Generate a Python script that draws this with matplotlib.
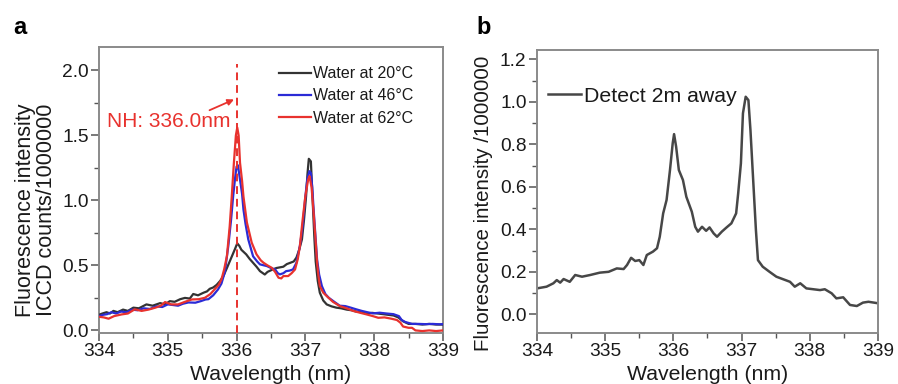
import matplotlib
matplotlib.use("Agg")
import matplotlib.pyplot as plt
from matplotlib.ticker import MultipleLocator, FormatStrFormatter

plt.rcParams['font.family'] = ['Liberation Sans', 'DejaVu Sans']

# ---------------- Panel a data ----------------
wl_20 = [334.00, 334.05, 334.11, 334.16, 334.21, 334.27, 334.35, 334.42, 334.50, 334.58, 334.69, 334.78,
         334.89, 334.96, 335.03, 335.10, 335.18, 335.25, 335.32, 335.37, 335.44, 335.52, 335.57, 335.61,
         335.66, 335.71, 335.76, 335.81, 335.86, 335.90, 335.94, 335.98, 336.01, 336.04, 336.07, 336.14,
         336.19, 336.24, 336.29, 336.34, 336.41, 336.45, 336.49, 336.53, 336.58, 336.63, 336.68, 336.73,
         336.78, 336.83, 336.87, 336.91, 336.95, 336.98, 337.01, 337.03, 337.05, 337.08, 337.11, 337.13,
         337.15, 337.18, 337.21, 337.26, 337.31, 337.38, 337.45, 337.52, 337.60, 337.67, 337.74, 337.81,
         337.89, 337.97, 338.05, 338.13, 338.20, 338.28, 338.35, 338.42, 338.50, 338.60, 338.70, 338.80,
         338.90, 339.00]
int_20 = [0.12, 0.13, 0.14, 0.13, 0.15, 0.14, 0.16, 0.15, 0.175, 0.17, 0.20, 0.19,
          0.21, 0.20, 0.225, 0.22, 0.24, 0.25, 0.245, 0.28, 0.27, 0.29, 0.30, 0.32,
          0.33, 0.35, 0.38, 0.42, 0.48, 0.53, 0.58, 0.63, 0.67, 0.65, 0.62, 0.585,
          0.55, 0.52, 0.49, 0.456, 0.43, 0.45, 0.46, 0.47, 0.48, 0.485, 0.49, 0.51,
          0.52, 0.53, 0.56, 0.62, 0.70, 0.85, 1.03, 1.20, 1.32, 1.30, 0.95, 0.72,
          0.53, 0.38, 0.29, 0.23, 0.20, 0.185, 0.175, 0.17, 0.16, 0.155, 0.145, 0.14,
          0.13, 0.135, 0.13, 0.125, 0.12, 0.115, 0.10, 0.07, 0.05, 0.05, 0.045, 0.05,
          0.045, 0.045]

wl_46 = [334.00, 334.06, 334.12, 334.18, 334.25, 334.32, 334.40, 334.48, 334.56, 334.65, 334.74, 334.83,
         334.92, 335.00, 335.08, 335.15, 335.22, 335.30, 335.40, 335.48, 335.55, 335.59, 335.66, 335.73,
         335.78, 335.83, 335.88, 335.92, 335.95, 335.98, 336.00, 336.02, 336.05, 336.08, 336.10, 336.13,
         336.17, 336.24, 336.30, 336.34, 336.40, 336.44, 336.50, 336.56, 336.60, 336.63, 336.68, 336.72,
         336.77, 336.82, 336.87, 336.92, 336.96, 337.00, 337.03, 337.06, 337.08, 337.10, 337.12, 337.15,
         337.17, 337.20, 337.24, 337.29, 337.34, 337.42, 337.50, 337.58, 337.66, 337.74, 337.82, 337.90,
         337.98, 338.08, 338.18, 338.28, 338.36, 338.40, 338.45, 338.55, 338.65, 338.75, 338.85, 338.95,
         339.00]
int_46 = [0.11, 0.12, 0.125, 0.14, 0.13, 0.145, 0.14, 0.16, 0.155, 0.17, 0.165, 0.185,
          0.18, 0.20, 0.195, 0.19, 0.205, 0.215, 0.213, 0.225, 0.238, 0.24, 0.27, 0.315,
          0.36, 0.45, 0.65, 0.85, 1.03, 1.18, 1.26, 1.27, 1.16, 1.05, 0.93, 0.82,
          0.70, 0.57, 0.53, 0.508, 0.50, 0.495, 0.48, 0.469, 0.44, 0.431, 0.44, 0.456,
          0.46, 0.469, 0.52, 0.649, 0.80, 1.033, 1.17, 1.225, 1.21, 1.10, 0.93, 0.70,
          0.546, 0.43, 0.341, 0.28, 0.251, 0.22, 0.19, 0.187, 0.175, 0.162, 0.15, 0.14,
          0.131, 0.136, 0.13, 0.125, 0.11, 0.08, 0.065, 0.05, 0.05, 0.048, 0.05, 0.047,
          0.048]

wl_62 = [334.00, 334.07, 334.14, 334.22, 334.33, 334.42, 334.52, 334.62, 334.72, 334.82, 334.90, 334.96,
         335.05, 335.15, 335.25, 335.35, 335.45, 335.54, 335.62, 335.69, 335.74, 335.78, 335.82, 335.86,
         335.90, 335.93, 335.96, 335.99, 336.01, 336.03, 336.05, 336.08, 336.10, 336.15, 336.22, 336.29,
         336.35, 336.39, 336.45, 336.51, 336.56, 336.61, 336.65, 336.68, 336.75, 336.80, 336.85, 336.89,
         336.92, 336.96, 337.00, 337.04, 337.06, 337.09, 337.12, 337.15, 337.17, 337.19, 337.21, 337.26,
         337.31, 337.40, 337.50, 337.60, 337.70, 337.80, 337.89, 337.98, 338.06, 338.15, 338.25, 338.33,
         338.38, 338.42, 338.50, 338.55, 338.60, 338.70, 338.80, 338.90, 339.00]
int_62 = [0.105, 0.10, 0.09, 0.11, 0.123, 0.13, 0.162, 0.15, 0.16, 0.175, 0.19, 0.218,
          0.20, 0.20, 0.22, 0.238, 0.24, 0.251, 0.28, 0.321, 0.35, 0.392, 0.47, 0.572,
          0.80, 1.03, 1.28, 1.50, 1.56, 1.50, 1.29, 1.15, 1.03, 0.83, 0.675, 0.585,
          0.54, 0.521, 0.50, 0.482, 0.45, 0.405, 0.40, 0.418, 0.418, 0.44, 0.469, 0.55,
          0.649, 0.85, 1.033, 1.16, 1.187, 1.10, 0.905, 0.68, 0.521, 0.42, 0.341, 0.29,
          0.264, 0.22, 0.187, 0.17, 0.149, 0.135, 0.123, 0.11, 0.097, 0.10, 0.09, 0.08,
          0.06, 0.03, 0.02, 0.02, 0.00, -0.005, 0.00, -0.005, 0.00]

labels_a = ['Water at 20°C', 'Water at 46°C', 'Water at 62°C']
nh_line = 336.0
nh_text = 'NH: 336.0nm'

# ---------------- Panel b data ----------------
wl_b = [334.00, 334.14, 334.24, 334.29, 334.34, 334.39, 334.48, 334.56, 334.66, 334.78, 334.92, 335.05,
        335.17, 335.27, 335.32, 335.38, 335.44, 335.50, 335.56, 335.61, 335.70, 335.76, 335.80, 335.85,
        335.90, 335.95, 335.99, 336.01, 336.04, 336.08, 336.14, 336.19, 336.27, 336.32, 336.36, 336.42,
        336.48, 336.53, 336.59, 336.64, 336.71, 336.78, 336.85, 336.92, 336.95, 336.99, 337.02, 337.06,
        337.10, 337.13, 337.17, 337.21, 337.24, 337.31, 337.41, 337.51, 337.61, 337.71, 337.78, 337.86,
        337.95, 338.05, 338.15, 338.22, 338.32, 338.39, 338.49, 338.59, 338.69, 338.78, 338.86, 339.00]
int_b = [0.122, 0.130, 0.146, 0.161, 0.149, 0.166, 0.153, 0.185, 0.177, 0.185, 0.196, 0.200,
         0.216, 0.213, 0.232, 0.266, 0.251, 0.255, 0.232, 0.279, 0.295, 0.311, 0.365, 0.475,
         0.538, 0.679, 0.805, 0.848, 0.789, 0.679, 0.632, 0.553, 0.483, 0.412, 0.389, 0.412,
         0.393, 0.409, 0.381, 0.365, 0.389, 0.409, 0.428, 0.475, 0.569, 0.711, 0.946, 1.024,
         1.008, 0.867, 0.632, 0.397, 0.255, 0.224, 0.200, 0.177, 0.165, 0.153, 0.130, 0.146,
         0.122, 0.118, 0.114, 0.118, 0.099, 0.075, 0.080, 0.044, 0.039, 0.055, 0.059, 0.052]
label_b = 'Detect 2m away'

# ---------------- Figure ----------------
fig = plt.figure(figsize=(8.98, 3.84), dpi=100)
ax1 = fig.add_axes([0.1102, 0.1328, 0.3831, 0.7448])
ax2 = fig.add_axes([0.5980, 0.1328, 0.3797, 0.7370])

spine_col = '#8a8a8a'
txt_col = '#1a1a1a'
tick_fs = 13.8
label_fs = 15.3

def style(ax):
    for s in ax.spines.values():
        s.set_color(spine_col)
        s.set_linewidth(1.4)
    ax.tick_params(which='both', direction='out', color='#555555', labelcolor=txt_col,
                   labelsize=tick_fs, top=False, right=False)
    ax.tick_params(which='major', length=5.5, width=1.1, pad=2)
    ax.tick_params(which='minor', length=3.5, width=1.0)
    ax.xaxis.set_major_locator(MultipleLocator(1))
    ax.xaxis.set_minor_locator(MultipleLocator(0.5))
    ax.set_xlim(334, 339)
    ax.set_xlabel('Wavelength (nm)', fontsize=label_fs, color=txt_col, labelpad=3)

# Panel a
colors_a = ['#333333', '#2b2bd6', '#e8322e']
ax1.plot(wl_20, int_20, color=colors_a[0], lw=1.6, label=labels_a[0], zorder=3)
ax1.plot(wl_46, int_46, color=colors_a[1], lw=1.6, label=labels_a[1], zorder=3)
ax1.plot(wl_62, int_62, color=colors_a[2], lw=1.6, label=labels_a[2], zorder=3)
ax1.axvline(nh_line, ymin=0, ymax=(2.05 + 0.02) / 2.20, color='#e8322e', lw=1.4,
            ls=(0, (4, 2.5)), zorder=4)
ax1.annotate('', xy=(nh_line, 1.785), xytext=(335.57, 1.685),
             arrowprops=dict(arrowstyle='-|>', color='#e8322e', lw=1.3, mutation_scale=9))
ax1.text(334.12, 1.61, nh_text, color='#e8322e', fontsize=15, va='center', ha='left')
ax1.set_ylim(-0.02, 2.18)
ax1.yaxis.set_major_locator(MultipleLocator(0.5))
ax1.yaxis.set_minor_locator(MultipleLocator(0.25))
ax1.yaxis.set_major_formatter(FormatStrFormatter('%.1f'))
style(ax1)
ax1.set_ylabel('Fluorescence intensity\nICCD counts/1000000', fontsize=15.5, color=txt_col,
               linespacing=1.05)
ax1.yaxis.set_label_coords(-0.121, 0.43)
leg1 = ax1.legend(loc='upper left', bbox_to_anchor=(0.505, 0.955), frameon=False, fontsize=11.5,
                  handlelength=2.0, handletextpad=0.15, labelspacing=0.45, borderaxespad=0.0)
for t in leg1.get_texts():
    t.set_color(txt_col)

# Panel b
ax2.plot(wl_b, int_b, color='#474747', lw=1.8, label=label_b)
ax2.set_ylim(-0.088, 1.244)
ax2.yaxis.set_major_locator(MultipleLocator(0.2))
ax2.yaxis.set_minor_locator(MultipleLocator(0.1))
ax2.yaxis.set_major_formatter(FormatStrFormatter('%.1f'))
style(ax2)
ax2.set_ylabel('Fluorescence intensity /1000000', fontsize=14.8, color=txt_col)
ax2.yaxis.set_label_coords(-0.128, 0.46)
leg2 = ax2.legend(loc='upper left', bbox_to_anchor=(-0.005, 0.915), frameon=False, fontsize=15.3,
                  handlelength=1.55, handletextpad=0.15, borderaxespad=0.2)
for t in leg2.get_texts():
    t.set_color(txt_col)

fig.text(0.015, 0.912, 'a', fontsize=17, fontweight='bold', color='black')
fig.text(0.531, 0.912, 'b', fontsize=17, fontweight='bold', color='black')

fig.savefig('out.png', dpi=100, facecolor='white')
